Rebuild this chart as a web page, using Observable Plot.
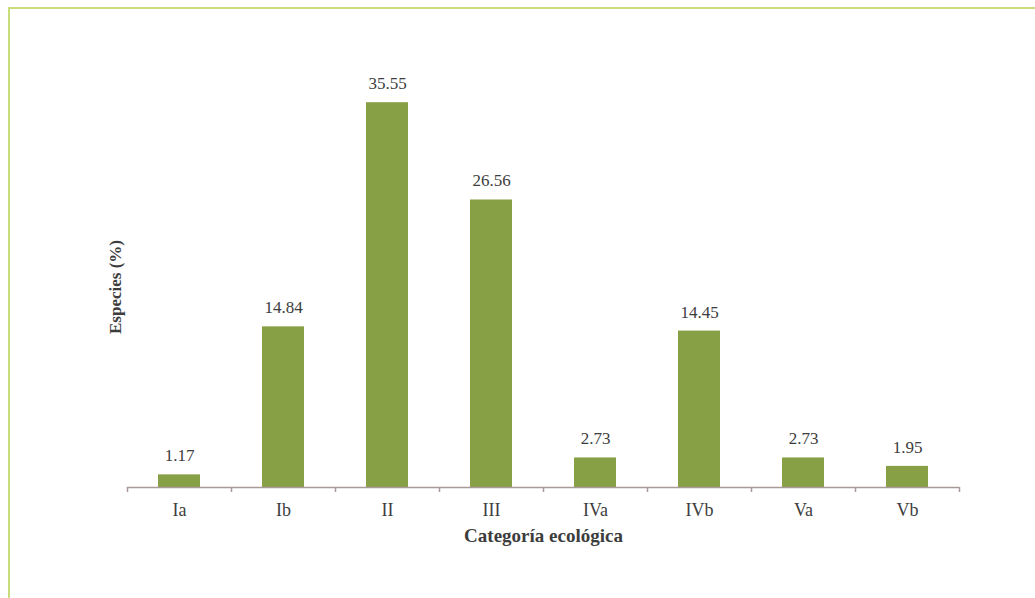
<!DOCTYPE html>
<html><head><meta charset="utf-8">
<script src="https://cdn.jsdelivr.net/npm/d3@7"></script>
<script src="https://cdn.jsdelivr.net/npm/@observablehq/plot@0.6"></script>
<style>
html,body{margin:0;padding:0;background:#fff;overflow:hidden;width:1035px;height:598px;}
#frame{position:absolute;left:8px;top:7px;width:1100px;height:700px;border:2px solid #c9dc7c;box-sizing:border-box;}
#chart{position:absolute;left:0;top:0;}
#chart svg, #chart svg text{font-family:"Liberation Serif","Times New Roman",serif !important;}
</style></head>
<body><div id="frame"></div><div id="chart"></div>
<script>
const categories = ["Ia","Ib","II","III","IVa","IVb","Va","Vb"];
const values = [1.17,14.84,35.55,26.56,2.73,14.45,2.73,1.95];
const labels = ["1.17","14.84","35.55","26.56","2.73","14.45","2.73","1.95"];
const xTitle = "Categoría ecológica";
const yTitle = "Especies (%)";

const data = categories.map((c,i)=>({cat:c, value:values[i], label:labels[i]}));
const textColor = "#3d3d3d";

const chart = Plot.plot({
  width:1035, height:598,
  marginLeft:127, marginRight:76, marginTop:54, marginBottom:111,
  style:{background:"transparent"},
  x:{domain:categories, paddingInner:0.6, paddingOuter:0.3, axis:null},
  y:{domain:[0,40], axis:null},
  marks:[
    Plot.barY(data,{x:"cat", y:"value", fill:"#87a045"}),
    Plot.ruleY([0],{stroke:"#a89a98", strokeWidth:1.5}),
    Plot.ruleX(categories,{x:d=>d, y1:0, y2:0, insetBottom:-5, dx:-52, stroke:"#a89a98", strokeWidth:1.5}),
    Plot.ruleX([categories[categories.length-1]],{x:d=>d, y1:0, y2:0, insetBottom:-5, dx:52, stroke:"#a89a98", strokeWidth:1.5}),
    Plot.text(data,{x:"cat", y:"value", text:"label", dy:-19, fontSize:17, fill:textColor}),
    Plot.axisX({tickSize:0, tickPadding:16, fontSize:18, fill:textColor, label:null}),
    Plot.text([xTitle],{frameAnchor:"bottom", dy:54, fontSize:19, fontWeight:"bold", fill:textColor, style:{letterSpacing:"0.6px"}}),
    Plot.text([yTitle],{frameAnchor:"left", textAnchor:"middle", dx:-12, dy:16, rotate:-90, fontSize:17, fontWeight:"bold", fill:textColor})
  ]
});
document.getElementById("chart").append(chart);
</script></body></html>
